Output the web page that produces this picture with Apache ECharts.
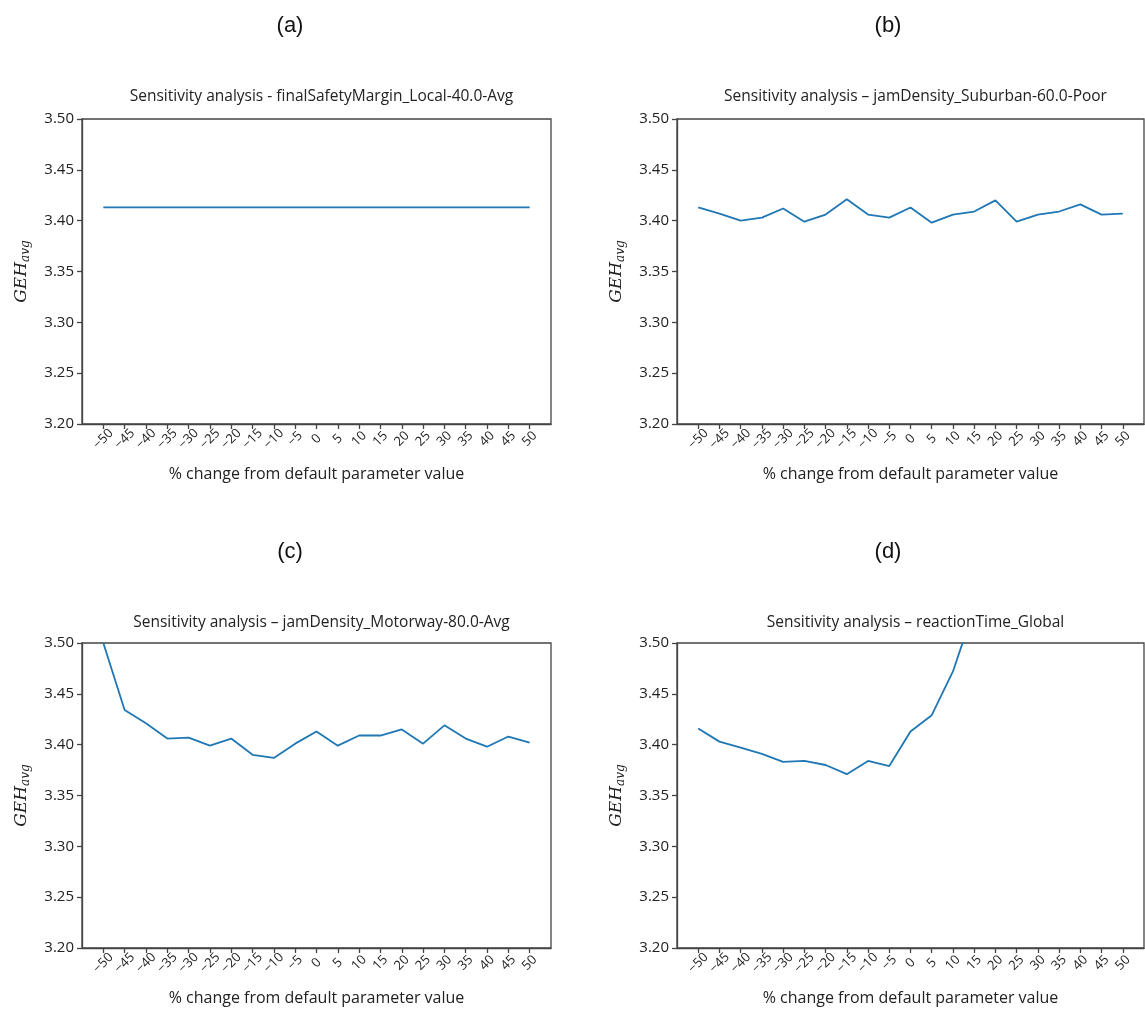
<!DOCTYPE html>
<html>
<head>
<meta charset="utf-8">
<script src="https://cdn.jsdelivr.net/npm/echarts@6/dist/echarts.min.js"></script>
<style>
html,body{margin:0;padding:0;background:#fff;}
#c{width:1145px;height:1012px;}
</style>
</head>
<body>
<div id="c"></div>
<script>
// ---- data ----
const pctChange = [-50,-45,-40,-35,-30,-25,-20,-15,-10,-5,0,5,10,15,20,25,30,35,40,45,50];
const xTickLabels = ['\u221250','\u221245','\u221240','\u221235','\u221230','\u221225','\u221220','\u221215','\u221210','\u22125','0','5','10','15','20','25','30','35','40','45','50'];
const yTicks = [3.20,3.25,3.30,3.35,3.40,3.45,3.50];
const panelLetters = ['(a)','(b)','(c)','(d)'];
const panelTitles = [
  'Sensitivity analysis - finalSafetyMargin_Local-40.0-Avg',
  'Sensitivity analysis \u2013 jamDensity_Suburban-60.0-Poor',
  'Sensitivity analysis \u2013 jamDensity_Motorway-80.0-Avg',
  'Sensitivity analysis \u2013 reactionTime_Global'
];
const gehA = [3.413,3.413,3.413,3.413,3.413,3.413,3.413,3.413,3.413,3.413,3.413,3.413,3.413,3.413,3.413,3.413,3.413,3.413,3.413,3.413,3.413];
const gehB = [3.413,3.407,3.400,3.403,3.412,3.399,3.406,3.421,3.406,3.403,3.413,3.398,3.406,3.409,3.420,3.399,3.406,3.409,3.416,3.406,3.407];
const gehC = [3.500,3.434,3.421,3.406,3.407,3.399,3.406,3.390,3.387,3.401,3.413,3.399,3.409,3.409,3.415,3.401,3.419,3.406,3.398,3.408,3.402];
const gehD = [3.416,3.403,3.397,3.391,3.383,3.384,3.380,3.371,3.384,3.379,3.413,3.429,3.472,3.534,3.600,3.680,3.770,3.870,3.980,4.100,4.230];
const seriesData = [gehA, gehB, gehC, gehD];

// ---- layout ----
const grids = [
  {left: 82, top: 119, width: 469, height: 305},
  {left: 677, top: 119, width: 467, height: 305},
  {left: 82, top: 643, width: 469, height: 305},
  {left: 677, top: 643, width: 467, height: 305}
];
const letterPos = [[285,10],[883,10],[285,536],[883,536]];
const titleTop = [84, 84, 610, 610];

const FONT = '"Open Sans", "Noto Sans", sans-serif';
const AX = '#444';

const option = {
  animation: false,
  backgroundColor: '#fff',
  title: [],
  grid: [],
  xAxis: [],
  yAxis: [],
  series: []
};

for (let i = 0; i < 4; i++) {
  const g = grids[i];
  option.grid.push({left: g.left, top: g.top, width: g.width, height: g.height,
    show: true, borderColor: AX, borderWidth: 1.3, containLabel: false});
  option.title.push({
    text: panelLetters[i], left: letterPos[i][0], top: letterPos[i][1], textAlign: 'center',
    textStyle: {fontFamily: '"Liberation Sans", Arial, sans-serif', fontSize: 22, fontWeight: 'normal', color: '#111'}
  });
  option.title.push({
    text: panelTitles[i], left: g.left + g.width / 2, top: titleTop[i], textAlign: 'center',
    textStyle: {fontFamily: FONT, fontSize: 15.5, fontWeight: 'normal', color: '#222'}
  });
  option.xAxis.push({
    type: 'value', gridIndex: i, min: -55, max: 55, interval: 5, position: 'bottom',
    name: '% change from default parameter value', nameLocation: 'middle', nameGap: 42,
    nameTextStyle: {fontFamily: FONT, fontSize: 16, color: '#222'},
    axisLine: {show: true, onZero: false, lineStyle: {color: AX, width: 1.3}},
    axisTick: {show: true, inside: false, length: 5, customValues: pctChange, lineStyle: {color: AX, width: 1.3}},
    axisLabel: {show: true, rotate: 45, margin: 15, align: 'center', verticalAlign: 'middle',
      customValues: pctChange,
      fontFamily: FONT, fontSize: 13, color: '#222',
      formatter: function (v) { const k = pctChange.indexOf(v); return k >= 0 ? xTickLabels[k] : ''; }},
    splitLine: {show: false}
  });
  option.yAxis.push({
    type: 'value', gridIndex: i, min: 3.2, max: 3.5, interval: 0.05, position: 'left',
    name: '{i|GEH}{s|avg}', nameLocation: 'middle', nameRotate: 90, nameGap: 50,
    nameTextStyle: {
      rich: {
        i: {fontFamily: '"DejaVu Serif", serif', fontStyle: 'italic', fontSize: 17, color: '#222'},
        s: {fontFamily: '"DejaVu Serif", serif', fontStyle: 'italic', fontSize: 12, color: '#222', padding: [9, 0, 0, 0]}
      }
    },
    axisLine: {show: true, onZero: false, lineStyle: {color: AX, width: 1.3}},
    axisTick: {show: true, inside: false, length: 5, lineStyle: {color: AX, width: 1.3}},
    axisLabel: {show: true, margin: 8, fontFamily: FONT, fontSize: 15, color: '#222',
      formatter: function (v) { return v.toFixed(2); }},
    splitLine: {show: false}
  });
  option.series.push({
    type: 'line', xAxisIndex: i, yAxisIndex: i, clip: true,
    data: pctChange.map(function (x, k) { return [x, seriesData[i][k]]; }),
    showSymbol: false, symbol: 'none',
    lineStyle: {color: '#1f77b4', width: 1.8}
  });
}

const chart = echarts.init(document.getElementById('c'), null, {renderer: 'canvas'});
chart.setOption(option);
</script>
</body>
</html>
